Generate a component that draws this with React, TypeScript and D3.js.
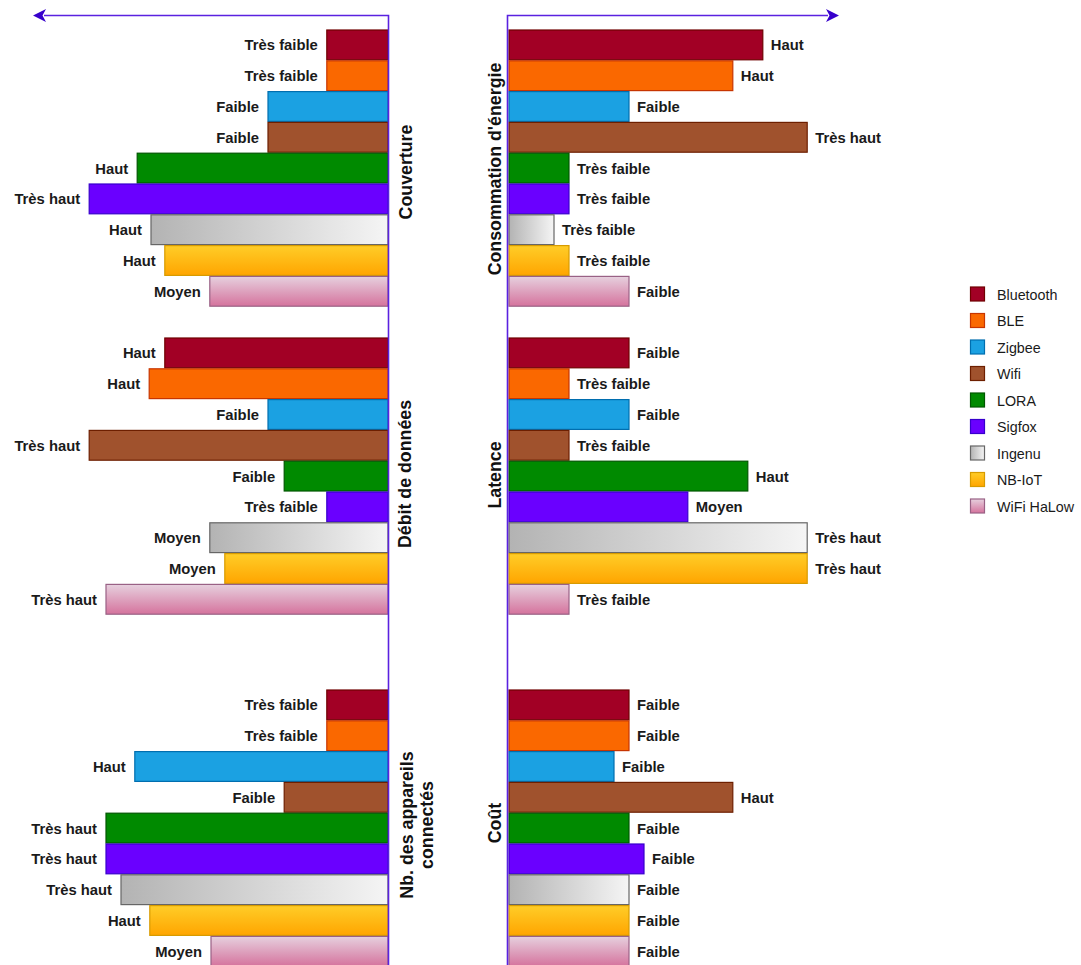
import React from "react";
import * as d3 from "d3";

// ---------- data ----------
const technologies = ["Bluetooth", "BLE", "Zigbee", "Wifi", "LORA", "Sigfox", "Ingenu", "NB-IoT", "WiFi HaLow"];

// score scale 0..5 (1 = Très faible ... 5 = Très haut)
const couvertureValues = [1.02, 1.02, 2, 2, 4.18, 4.98, 3.95, 3.72, 2.97];
const couvertureLabels = ["Très faible", "Très faible", "Faible", "Faible", "Haut", "Très haut", "Haut", "Haut", "Moyen"];

const debitValues = [3.72, 3.98, 2, 4.98, 1.73, 1.02, 2.97, 2.72, 4.7];
const debitLabels = ["Haut", "Haut", "Faible", "Très haut", "Faible", "Très faible", "Moyen", "Moyen", "Très haut"];

const appareilsValues = [1.02, 1.02, 4.22, 1.73, 4.7, 4.7, 4.45, 3.97, 2.95];
const appareilsLabels = ["Très faible", "Très faible", "Haut", "Faible", "Très haut", "Très haut", "Très haut", "Haut", "Moyen"];

const consoValues = [4.23, 3.73, 2, 4.97, 1, 1, 0.75, 1, 2];
const consoLabels = ["Haut", "Haut", "Faible", "Très haut", "Très faible", "Très faible", "Très faible", "Très faible", "Faible"];

const latenceValues = [2, 1, 2, 1, 3.98, 2.98, 4.97, 4.97, 1];
const latenceLabels = ["Faible", "Très faible", "Faible", "Très faible", "Haut", "Moyen", "Très haut", "Très haut", "Très faible"];

const coutValues = [2, 2, 1.75, 3.73, 2, 2.25, 2, 2, 2];
const coutLabels = ["Faible", "Faible", "Faible", "Haut", "Faible", "Faible", "Faible", "Faible", "Faible"];

// ---------- styles ----------
const fills = ["#a20025", "#fa6800", "#1ba1e2", "#a0522d", "#008a00", "#6a00ff", "url(#gIngenu)", "url(#gNbiot)", "url(#gHalow)"];
const strokes = ["#6f0000", "#c73500", "#006eaf", "#6d1f00", "#005700", "#3700cc", "#666666", "#d79b00", "#996185"];

const FONT = "'Liberation Sans', Arial, Helvetica, sans-serif";
const AXIS = "#5a22e0";
const AXIS_DARK = "#3700cc";

const W = 1081;
const H = 965;

const xLen = d3.scaleLinear().domain([0, 5]).range([0, 300]);
const leftEdge = 388;
const rightEdge = 509;

const panelTops = [30, 338, 690];
const bandFor = (top: number) =>
  d3.scaleBand<string>().domain(technologies).range([top, top + 9 * 30.8 - 1]).paddingInner(1 / 31).paddingOuter(0);

type Panel = {
  values: number[];
  labels: string[];
  side: "left" | "right";
  top: number;
  title: string[];
  titlePos: [number, number];
};

const panels: Panel[] = [
  { values: couvertureValues, labels: couvertureLabels, side: "left", top: panelTops[0], title: ["Couverture"], titlePos: [406, 172] },
  { values: debitValues, labels: debitLabels, side: "left", top: panelTops[1], title: ["Débit de données"], titlePos: [405, 474] },
  { values: appareilsValues, labels: appareilsLabels, side: "left", top: panelTops[2], title: ["Nb. des appareils", "connectés"], titlePos: [417, 825] },
  { values: consoValues, labels: consoLabels, side: "right", top: panelTops[0], title: ["Consommation d'énergie"], titlePos: [495, 169] },
  { values: latenceValues, labels: latenceLabels, side: "right", top: panelTops[1], title: ["Latence"], titlePos: [495, 475] },
  { values: coutValues, labels: coutLabels, side: "right", top: panelTops[2], title: ["Coût"], titlePos: [495, 823] },
];

const legendY = d3.scalePoint<string>().domain(technologies).range([287, 499]);

function PanelView({ p }: { p: Panel }) {
  const y = bandFor(p.top);
  const bh = y.bandwidth();
  return (
    <g>
      {technologies.map((t, i) => {
        const w = xLen(p.values[i]);
        const x0 = p.side === "left" ? leftEdge - w : rightEdge;
        const yy = y(t) as number;
        const lx = p.side === "left" ? x0 - 9 : x0 + w + 8;
        return (
          <g key={t}>
            <rect x={x0} y={yy} width={w} height={bh} fill={fills[i]} stroke={strokes[i]} strokeWidth={1.2} />
            <text
              x={lx}
              y={yy + bh / 2 + 0.5}
              textAnchor={p.side === "left" ? "end" : "start"}
              dominantBaseline="central"
              fontFamily={FONT}
              fontWeight="bold"
              fontSize={14.8}
              fill="#1a1a1a"
            >
              {p.labels[i]}
            </text>
          </g>
        );
      })}
      <g transform={`translate(${p.titlePos[0]},${p.titlePos[1]}) rotate(-90)`}>
        {p.title.map((line, k) => (
          <text
            key={k}
            x={0}
            y={(k - (p.title.length - 1) / 2) * 19.5}
            textAnchor="middle"
            dominantBaseline="central"
            fontFamily={FONT}
            fontWeight="bold"
            fontSize={17.8}
            fill="#111"
          >
            {line}
          </text>
        ))}
      </g>
    </g>
  );
}

export default function App() {
  return (
    <svg width={W} height={H} style={{ position: "absolute", left: 0, top: 0, background: "#fff" }}>
      <defs>
        <linearGradient id="gIngenu" x1="0" y1="0" x2="1" y2="0">
          <stop offset="0" stopColor="#b3b3b3" />
          <stop offset="1" stopColor="#f5f5f5" />
        </linearGradient>
        <linearGradient id="gNbiot" x1="0" y1="0" x2="0" y2="1">
          <stop offset="0" stopColor="#ffcd28" />
          <stop offset="1" stopColor="#ffa500" />
        </linearGradient>
        <linearGradient id="gHalow" x1="0" y1="0" x2="0" y2="1">
          <stop offset="0" stopColor="#e6d0de" />
          <stop offset="1" stopColor="#d5739d" />
        </linearGradient>
      </defs>

      {panels.map((p, i) => (
        <PanelView key={i} p={p} />
      ))}

      {/* axes */}
      <path d={`M388.5,${H} V15.5 H44`} fill="none" stroke={AXIS} strokeWidth={1.6} />
      <path d="M33,15.5 L46,9 L42.5,15.5 L46,22 Z" fill={AXIS_DARK} />
      <path d={`M507.5,${H} V15.5 H828`} fill="none" stroke={AXIS} strokeWidth={1.6} />
      <path d="M839,15.5 L826,9 L829.5,15.5 L826,22 Z" fill={AXIS_DARK} />

      {/* legend */}
      {technologies.map((t, i) => {
        const yy = legendY(t) as number;
        return (
          <g key={t}>
            <rect x={970.5} y={yy} width={14} height={14} fill={fills[i]} stroke={strokes[i]} strokeWidth={1.2} />
            <text x={997} y={yy + 7.5} dominantBaseline="central" fontFamily={FONT} fontSize={14.3} fill="#1a1a1a">
              {t}
            </text>
          </g>
        );
      })}
    </svg>
  );
}
